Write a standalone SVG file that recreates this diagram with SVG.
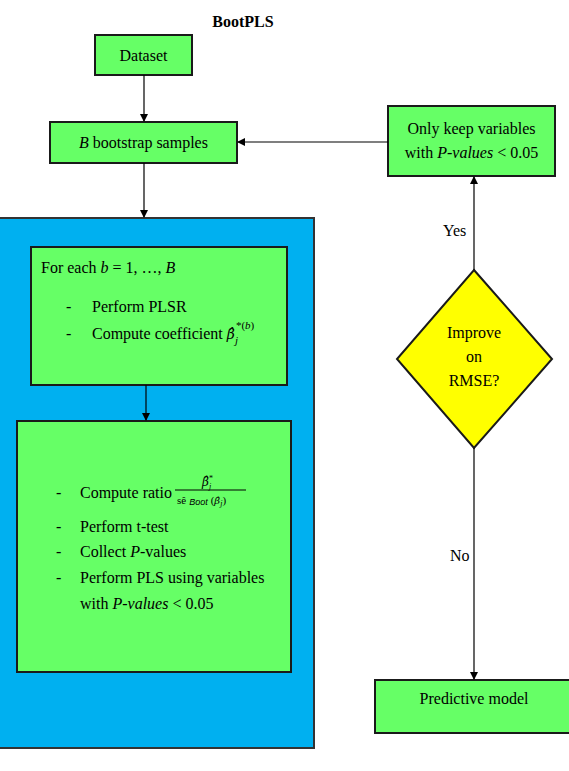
<svg xmlns="http://www.w3.org/2000/svg" width="569" height="771" viewBox="0 0 569 771">
<defs>
<marker id="arr" markerWidth="8" markerHeight="8" refX="7" refY="4" orient="auto" markerUnits="userSpaceOnUse">
<path d="M0,0 L8,4 L0,8 Z" fill="#000"/>
</marker>
<style>
text{font-family:"Liberation Serif","Times New Roman",serif;font-size:16px;fill:#000}
.box{fill:#66FF66;stroke:#1a1a1a;stroke-width:2}
.c{text-anchor:middle}
.i{font-style:italic}
.b{font-family:"DejaVu Serif",serif;font-style:italic}
.con{stroke:#000;stroke-width:1.2;fill:none;marker-end:url(#arr)}
.sm{font-size:11px}
.xs{font-size:8px}
.ss{font-family:"Liberation Sans",Arial,sans-serif;font-style:italic;font-size:9px}
</style>
</defs>
<rect width="569" height="771" fill="#fff"/>
<text x="243" y="27" class="c" font-weight="bold">BootPLS</text>

<g id="dataset">
<rect class="box" x="95" y="35" width="97" height="40"/>
<text x="143.5" y="61" class="c">Dataset</text>
</g>

<g id="bootstrap">
<rect class="box" x="50" y="122" width="187" height="41"/>
<text x="143.5" y="148" class="c"><tspan class="i">B</tspan> bootstrap samples</text>
</g>

<g id="loop">
<rect x="-1" y="218" width="315" height="530" fill="#00B0F0" stroke="#333" stroke-width="2"/>
</g>

<g id="foreach">
<rect class="box" x="31" y="247" width="256" height="138"/>
<text x="41" y="273">For each <tspan class="i">b</tspan> = 1, …, <tspan class="i">B</tspan></text>
<text x="66" y="312">-</text>
<text x="92" y="312">Perform PLSR</text>
<text x="66" y="339">-</text>
<text x="92" y="339">Compute coefficient <tspan class="b" style="font-size:14px">β̂</tspan><tspan class="sm i" dy="5">j</tspan><tspan class="sm" dx="-2" dy="-15">*(<tspan class="i">b</tspan>)</tspan></text>
</g>

<g id="ratio">
<rect class="box" x="17" y="421" width="274" height="251"/>
<text x="56" y="498">-</text>
<text x="80" y="498">Compute ratio</text>
<text x="202" y="486" style="font-size:12px"><tspan class="b">β̂</tspan><tspan class="xs" dy="-5">*</tspan><tspan class="xs i" dx="-4" dy="8">j</tspan></text>
<line x1="175" y1="490" x2="246" y2="490" stroke="#000" stroke-width="1"/>
<text x="177" y="504" style="font-size:11px">sê<tspan class="ss" dx="3" dy="1">Boot</tspan><tspan dx="3" dy="-1">(</tspan><tspan class="b" style="font-size:10px">β̂</tspan><tspan class="xs i" dy="2">j</tspan><tspan dy="-2">)</tspan></text>
<text x="56" y="532">-</text>
<text x="80" y="532">Perform t-test</text>
<text x="56" y="557">-</text>
<text x="80" y="557">Collect <tspan class="i">P</tspan>-values</text>
<text x="56" y="583">-</text>
<text x="80" y="583">Perform PLS using variables</text>
<text x="80" y="609">with <tspan class="i">P-values</tspan> &lt; 0.05</text>
</g>

<g id="keep">
<rect class="box" x="388" y="106" width="167" height="70"/>
<text x="471.5" y="134" class="c">Only keep variables</text>
<text x="471.5" y="158" class="c">with <tspan class="i">P-values</tspan> &lt; 0.05</text>
</g>

<g id="decision">
<polygon points="474,270 552,359 474,448 397,359" fill="#FFFF00" stroke="#1a1a1a" stroke-width="2"/>
<text x="474" y="338" class="c">Improve</text>
<text x="474" y="362" class="c">on</text>
<text x="474" y="386" class="c">RMSE?</text>
</g>

<g id="predictive">
<rect class="box" x="375" y="680" width="196" height="53"/>
<text x="474" y="704" class="c">Predictive model</text>
</g>

<g id="connectors">
<line class="con" x1="144" y1="75" x2="144" y2="121"/>
<line class="con" x1="144" y1="163" x2="144" y2="217"/>
<line class="con" x1="146" y1="385" x2="146" y2="420"/>
<line class="con" x1="474" y1="270" x2="474" y2="177"/>
<line class="con" x1="388" y1="142" x2="238" y2="142"/>
<line class="con" x1="474" y1="448" x2="474" y2="679" stroke="#444"/>
<text x="443" y="236">Yes</text>
<text x="450" y="561">No</text>
</g>
</svg>
